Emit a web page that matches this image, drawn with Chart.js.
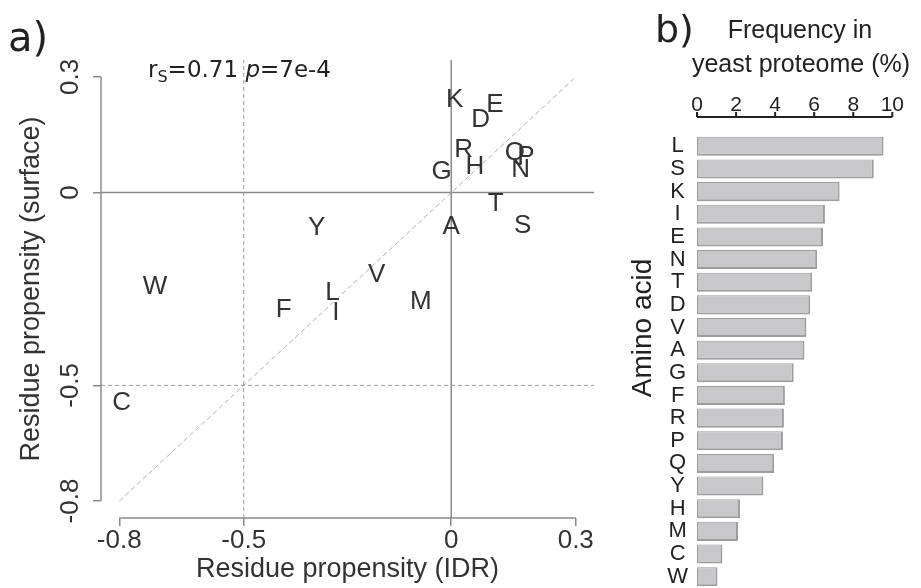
<!DOCTYPE html>
<html>
<head>
<meta charset="utf-8">
<script src="https://cdn.jsdelivr.net/npm/chart.js@4.4.1/dist/chart.umd.min.js"></script>
<style>
  html, body { margin: 0; padding: 0; background: #fff; }
  #wrap { position: relative; width: 921px; height: 588px; }
  #scatter { position: absolute; left: 0; top: 0; }
  #bars { position: absolute; left: 615px; top: 0; }
</style>
</head>
<body>
<div id="wrap">
  <canvas id="scatter" width="615" height="588"></canvas>
  <canvas id="bars" width="306" height="588"></canvas>
</div>
<script>
// panel a: residue propensity, IDR vs surface
const residues = ['K', 'E', 'D', 'R', 'H', 'G', 'Q', 'P', 'N', 'T', 'A', 'S', 'Y', 'V', 'W', 'L', 'I', 'F', 'M', 'C'];
const idrProp = [0.008, 0.105, 0.071, 0.030, 0.057, -0.023, 0.153, 0.180, 0.167, 0.107, 0.0, 0.172, -0.324, -0.180, -0.714, -0.286, -0.278, -0.404, -0.073, -0.794];
const surfaceProp = [0.240, 0.227, 0.188, 0.110, 0.066, 0.053, 0.103, 0.092, 0.058, -0.030, -0.090, -0.087, -0.092, -0.212, -0.245, -0.261, -0.313, -0.305, -0.282, -0.544];
const propTicks = [-0.8, -0.5, 0, 0.3];

// panel b: amino acid frequency in yeast proteome (%)
const aminoAcids = ['L', 'S', 'K', 'I', 'E', 'N', 'T', 'D', 'V', 'A', 'G', 'F', 'R', 'P', 'Q', 'Y', 'H', 'M', 'C', 'W'];
const frequency = [9.55, 9.05, 7.3, 6.55, 6.45, 6.15, 5.9, 5.8, 5.6, 5.5, 4.95, 4.5, 4.45, 4.4, 3.95, 3.4, 2.2, 2.1, 1.3, 1.05];
const freqTicks = [0, 2, 4, 6, 8, 10];

const SANS = '"Liberation Sans", Arial, sans-serif';
const VERDANA = '"DejaVu Sans", Verdana, sans-serif';

// R-style axis range: data limits plus 4%
const lo = -0.8, hi = 0.3;
const pad = (hi - lo) * 0.04;
const axMin = lo - pad, axMax = hi + pad;

function refLine(points, color, width, dash) {
    return {
        data: points,
        showLine: true,
        borderColor: color,
        borderWidth: width,
        borderDash: dash,
        pointRadius: 0,
        fill: false
    };
}

const letterPlugin = {
    id: 'letters',
    afterDatasetsDraw(chart) {
        const ctx = chart.ctx;
        const meta = chart.getDatasetMeta(chart.data.datasets.length - 1);
        ctx.save();
        ctx.fillStyle = '#333';
        ctx.font = '26px ' + SANS;
        ctx.textAlign = 'center';
        ctx.textBaseline = 'middle';
        meta.data.forEach((pt, i) => ctx.fillText(residues[i], pt.x, pt.y));
        ctx.restore();
    }
};

const scatterDecor = {
    id: 'scatterDecor',
    afterDraw(chart) {
        const { ctx, chartArea } = chart;
        const x = chart.scales.x, y = chart.scales.y;
        ctx.save();
        // detached axis lines, only across the tick range
        ctx.strokeStyle = '#8a8a8a';
        ctx.lineWidth = 1.5;
        ctx.beginPath();
        ctx.moveTo(x.getPixelForValue(lo), chartArea.bottom);
        ctx.lineTo(x.getPixelForValue(hi), chartArea.bottom);
        ctx.moveTo(chartArea.left, y.getPixelForValue(lo));
        ctx.lineTo(chartArea.left, y.getPixelForValue(hi));
        ctx.stroke();

        // rotated y tick labels
        ctx.fillStyle = '#333';
        ctx.font = '26px ' + SANS;
        ctx.textAlign = 'center';
        ctx.textBaseline = 'middle';
        propTicks.forEach(v => {
            ctx.save();
            ctx.translate(chartArea.left - 30, y.getPixelForValue(v));
            ctx.rotate(-Math.PI / 2);
            ctx.fillText(String(v), 0, 0);
            ctx.restore();
        });

        // panel label
        ctx.fillStyle = '#222';
        ctx.textAlign = 'left';
        ctx.textBaseline = 'alphabetic';
        ctx.font = '40px ' + VERDANA;
        ctx.fillText('a)', 8, 51);

        // correlation note
        let cx = 148;
        const by = 77;
        ctx.font = '23px ' + VERDANA;
        ctx.fillText('r', cx, by);
        cx += ctx.measureText('r').width;
        ctx.font = '16px ' + VERDANA;
        ctx.fillText('S', cx, by + 5);
        cx += ctx.measureText('S').width;
        ctx.font = '23px ' + VERDANA;
        ctx.fillText('=0.71 ', cx, by);
        cx += ctx.measureText('=0.71 ').width;
        ctx.font = 'italic 23px ' + VERDANA;
        ctx.fillText('p', cx, by);
        cx += ctx.measureText('p').width;
        ctx.font = '23px ' + VERDANA;
        ctx.fillText('=7e-4', cx, by);
        ctx.restore();
    }
};

new Chart(document.getElementById('scatter'), {
    type: 'scatter',
    data: {
        datasets: [
            refLine([{ x: -0.5, y: axMin }, { x: -0.5, y: axMax }], '#9a9a9a', 1, [4, 3]),
            refLine([{ x: axMin, y: -0.5 }, { x: axMax, y: -0.5 }], '#9a9a9a', 1, [4, 3]),
            refLine([{ x: lo, y: lo }, { x: hi, y: hi }], '#b0b0b0', 1, [5, 3]),
            refLine([{ x: 0, y: axMin }, { x: 0, y: axMax }], '#8a8a8a', 1.5, []),
            refLine([{ x: axMin, y: 0 }, { x: axMax, y: 0 }], '#8a8a8a', 1.5, []),
            {
                data: idrProp.map((v, i) => ({ x: v, y: surfaceProp[i] })),
                pointRadius: 0,
                pointHoverRadius: 0
            }
        ]
    },
    options: {
        responsive: false,
        animation: false,
        layout: { padding: { top: 60, right: 21, bottom: 0, left: 0 } },
        plugins: { legend: { display: false }, tooltip: { enabled: false } },
        scales: {
            x: {
                type: 'linear',
                min: axMin,
                max: axMax,
                afterBuildTicks: s => { s.ticks = propTicks.map(v => ({ value: v })); },
                afterFit: s => { s.height = 70; },
                border: { display: false },
                grid: { drawOnChartArea: false, drawTicks: true, tickLength: 8, color: '#8a8a8a', lineWidth: 1.5 },
                ticks: { color: '#333', font: { size: 26, family: SANS }, padding: -1, maxRotation: 0, callback: v => String(v) },
                title: {
                    display: true,
                    text: 'Residue propensity (IDR)',
                    color: '#333',
                    font: { size: 27, family: SANS, lineHeight: 1.1 },
                    padding: { top: 0, bottom: 4 }
                }
            },
            y: {
                type: 'linear',
                min: axMin,
                max: axMax,
                afterBuildTicks: s => { s.ticks = propTicks.map(v => ({ value: v })); },
                afterFit: s => { s.width = 101; },
                border: { display: false },
                grid: { drawOnChartArea: false, drawTicks: true, tickLength: 8, color: '#8a8a8a', lineWidth: 1.5 },
                ticks: { display: false },
                title: {
                    display: true,
                    text: 'Residue propensity (surface)',
                    color: '#333',
                    font: { size: 27, family: SANS, lineHeight: 1.1 },
                    padding: { top: 17, bottom: 0 }
                }
            }
        }
    },
    plugins: [letterPlugin, scatterDecor]
});

const barDecor = {
    id: 'barDecor',
    afterDraw(chart) {
        const { ctx, chartArea } = chart;
        const x = chart.scales.x;
        const axisY = chartArea.top - 18;
        ctx.save();
        ctx.strokeStyle = '#222';
        ctx.lineWidth = 2;
        ctx.beginPath();
        ctx.moveTo(x.getPixelForValue(freqTicks[0]), axisY);
        ctx.lineTo(x.getPixelForValue(freqTicks[freqTicks.length - 1]), axisY);
        freqTicks.forEach(v => {
            const px = x.getPixelForValue(v);
            ctx.moveTo(px, axisY);
            ctx.lineTo(px, axisY - 5);
        });
        ctx.stroke();

        ctx.fillStyle = '#222';
        ctx.textBaseline = 'alphabetic';
        ctx.textAlign = 'left';
        ctx.font = '38px ' + VERDANA;
        ctx.fillText('b)', 40, 42);

        ctx.textAlign = 'center';
        ctx.font = '25px ' + SANS;
        ctx.fillText('Frequency in', 185, 38);
        ctx.fillText('yeast proteome (%)', 186, 72);

        ctx.font = '28px ' + SANS;
        ctx.textBaseline = 'middle';
        ctx.translate(28, 328);
        ctx.rotate(-Math.PI / 2);
        ctx.fillText('Amino acid', 0, 0);
        ctx.restore();
    }
};

new Chart(document.getElementById('bars'), {
    type: 'bar',
    data: {
        labels: aminoAcids,
        datasets: [{
            data: frequency,
            backgroundColor: '#c8c8cb',
            borderColor: '#9c9c9e',
            borderWidth: { top: 1, left: 1, right: 2, bottom: 2 },
            borderSkipped: false,
            barPercentage: 0.84,
            categoryPercentage: 1
        }]
    },
    options: {
        indexAxis: 'y',
        responsive: false,
        animation: false,
        layout: { padding: { top: 95, right: 24, bottom: 0, left: 0 } },
        plugins: { legend: { display: false }, tooltip: { enabled: false } },
        scales: {
            x: {
                position: 'top',
                min: 0,
                max: 10,
                afterBuildTicks: s => { s.ticks = freqTicks.map(v => ({ value: v })); },
                afterFit: s => { s.height = 40; },
                border: { display: false },
                grid: { display: false, drawTicks: false },
                ticks: { color: '#222', font: { size: 21, family: SANS }, padding: 17, maxRotation: 0 }
            },
            y: {
                afterFit: s => {
                    s.width = 82;
                    // let the bars run to the canvas edge
                    s.paddingTop = 0;
                    s.paddingBottom = 0;
                },
                border: { display: false },
                grid: { display: false, drawTicks: false },
                ticks: { color: '#222', font: { size: 22, family: SANS }, crossAlign: 'center', padding: 9, autoSkip: false }
            }
        }
    },
    plugins: [barDecor]
});
</script>
</body>
</html>
